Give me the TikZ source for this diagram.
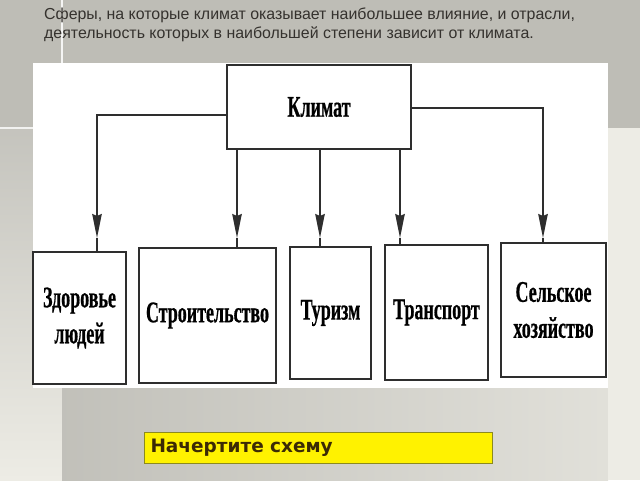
\documentclass[tikz,border=0pt]{standalone}
\usepackage{fontspec}
\setmainfont{Liberation Sans}
\newfontfamily\scanfont[FakeStretch=0.6,FakeBold=0.6]{Liberation Serif}
\newfontfamily\taskfont{DejaVu Sans}
\usetikzlibrary{arrows.meta}
\definecolor{slidegray}{HTML}{BEBDB6}
\definecolor{stripcream}{HTML}{EDECE5}
\definecolor{titletext}{HTML}{35322E}
\definecolor{scanline}{HTML}{2E2E2E}
\definecolor{taskborder}{HTML}{8C8A1E}
\definecolor{tasktext}{HTML}{3B2A05}
\begin{document}
\begin{tikzpicture}[x=1pt,y=-1pt,
    box/.style={draw=scanline,line width=1.8pt,fill=white,inner sep=0pt,align=center,
      font=\scanfont\bfseries\fontsize{30}{36}\selectfont},
    link/.style={draw=scanline,line width=1.6pt},
    arr/.style={link,-{Stealth[length=24pt,width=9.5pt,inset=2pt]}}]
  \useasboundingbox (0,0) rectangle (640,480);
  % slide background
  \fill[slidegray] (0,0) rectangle (640,480);
  \shade[top color=slidegray!90!white,bottom color=stripcream] (0,128) rectangle (62,480);
  \shade[left color=slidegray!95!white,right color=stripcream!95!black] (62,388) rectangle (608,480);
  \fill[stripcream] (608,128) rectangle (640,480);
  \draw[white!85!slidegray,line width=1.2pt] (62,0) -- (62,63);
  \draw[white!80!slidegray,line width=1.2pt] (0,128) -- (40,128);
  % scanned panel
  \fill[white] (33,63) rectangle (608,388);
  \node[anchor=north west,inner sep=0pt,align=left,text=titletext,
    font=\fontsize{15.9}{18.3}\selectfont] (title) at (44,8)
    {Сферы, на которые климат оказывает наибольшее влияние, и отрасли,\\
     деятельность которых в наибольшей степени зависит от климата.};
  \node[box,minimum width=184pt,minimum height=84pt] (klimat) at (319,107) {Климат};
  \node[box,minimum width=93pt,minimum height=132pt] (zdorovie) at (79.5,318) {Здоровье\\людей};
  \node[box,minimum width=137pt,minimum height=135pt] (stroitelstvo) at (207.5,315.5) {Строительство};
  \node[box,minimum width=81pt,minimum height=132pt] (turizm) at (330.5,313) {Туризм};
  \node[box,minimum width=103pt,minimum height=135pt] (transport) at (436.5,312.5) {Транспорт};
  \node[box,minimum width=105pt,minimum height=134pt] (selskoe) at (553.5,310) {Сельское\\хозяйство};
  % arrow tips
  \coordinate (zdtip) at (97,238);
  \coordinate (sttip) at (237,238);
  \coordinate (tutip) at (320,238);
  \coordinate (trtip) at (400,238);
  \coordinate (setip) at (543,238);
  \draw[arr] ([yshift=-8pt]klimat.west) -| (zdtip);
  \draw[link] (zdtip) -- (zdtip |- zdorovie.north);
  \foreach \tip/\dest in {sttip/stroitelstvo,tutip/turizm,trtip/transport}{
    \draw[arr] (klimat.south -| \tip) -- (\tip);
    \draw[link] (\tip) -- (\tip |- \dest.north);
  }
  \draw[arr] ([yshift=-1pt]klimat.east) -| (setip);
  \draw[link] (setip) -- (setip |- selskoe.north);
  % task
  \node[draw=taskborder,fill=yellow,line width=1pt,anchor=west,text width=336pt,
    inner xsep=6pt,minimum height=31pt,align=left,text=tasktext,
    font=\taskfont\bfseries\fontsize{18.5}{21}\selectfont] (task) at (144,447.5) {Начертите схему};
\end{tikzpicture}
\end{document}
